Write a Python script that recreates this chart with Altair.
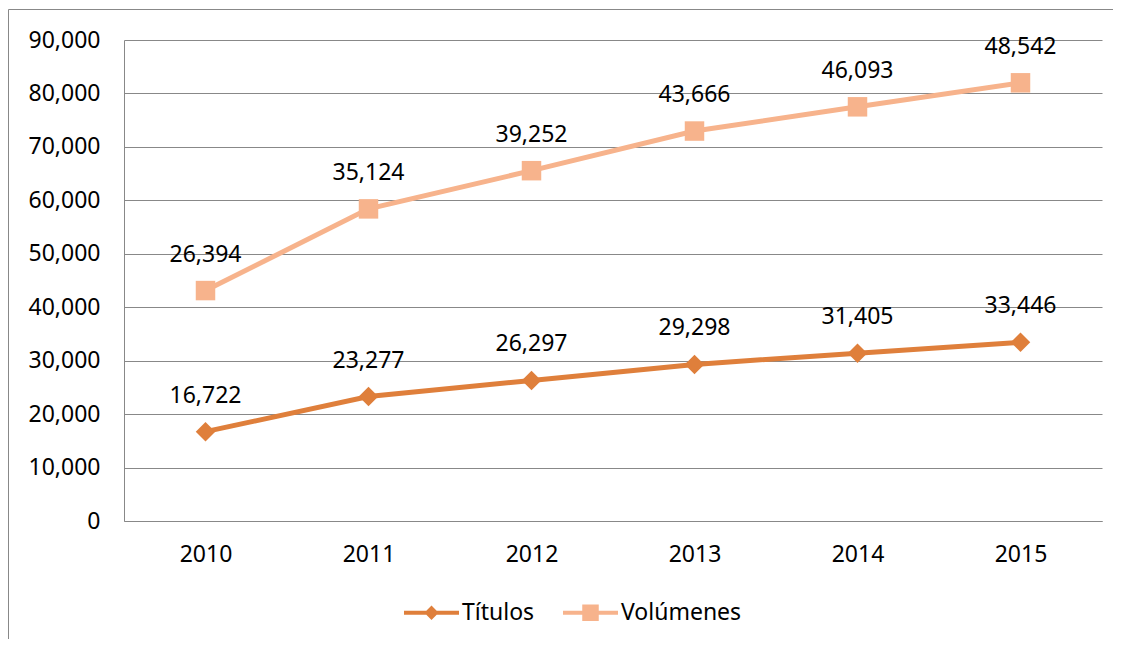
import altair as alt
import pandas as pd

years = ["2010", "2011", "2012", "2013", "2014", "2015"]
titulos = [16722, 23277, 26297, 29298, 31405, 33446]
volumenes = [26394, 35124, 39252, 43666, 46093, 48542]
series_names = ["Títulos", "Volúmenes"]
colors = ["#DF7F3B", "#F7B38C"]

rows = []
for i, y in enumerate(years):
    rows.append({"year": y, "series": series_names[0], "order": 0, "value": titulos[i]})
    rows.append({"year": y, "series": series_names[1], "order": 1, "value": volumenes[i]})
df = pd.DataFrame(rows)

FONT = "Noto Sans"
GRAY = "#888888"

# legend symbol paths (line + marker)
diamond_path = "M-1,-0.075H1V0.075H-1Z M0,-0.26L0.26,0L0,0.26L-0.26,0Z"
square_path = "M-1,-0.075H1V0.075H-1Z M-0.3,-0.3H0.3V0.3H-0.3Z"

base = alt.Chart(df).transform_stack(
    stack="value", groupby=["year"], as_=["y0", "y1"], sort=[alt.SortField("order")]
)

x_enc = alt.X(
    "year:O",
    scale=alt.Scale(type="point", padding=0.5),
    axis=alt.Axis(
        title=None, labelAngle=0, ticks=False, domainColor=GRAY, labelFontSize=23,
        labelFont=FONT, labelColor="#000000", labelPadding=22, grid=False,
    ),
)
y_enc = alt.Y(
    "y1:Q",
    scale=alt.Scale(domain=[0, 90000], nice=False),
    axis=alt.Axis(
        title=None, values=list(range(0, 90001, 10000)), format=",.0f", ticks=False,
        domainColor=GRAY, gridColor=GRAY, labelFontSize=23, labelFont=FONT,
        labelColor="#000000", labelPadding=24,
    ),
)
color_scale = alt.Scale(domain=series_names, range=colors)

leg = alt.Legend(
    title=None, orient="none", direction="horizontal", legendX=280, legendY=545,
    labelFontSize=23, labelFont=FONT, labelColor="#000000", symbolSize=3025,
    labelOffset=3, columnPadding=28, symbolStrokeWidth=0, symbolOpacity=1,
)
color_enc = alt.Color("series:N", scale=color_scale, legend=leg)

lines = base.mark_line(strokeWidth=5).encode(
    x=x_enc, y=y_enc, color=color_enc, detail="series:N",
)

pts_t = base.transform_filter(alt.datum.series == series_names[0]).mark_point(
    filled=True, opacity=1, size=380, shape="diamond"
).encode(x=x_enc, y=y_enc, color=color_enc)

pts_v = base.transform_filter(alt.datum.series == series_names[1]).mark_point(
    filled=True, opacity=1, size=380, shape="square"
).encode(x=x_enc, y=y_enc, color=color_enc)

legend_layer = alt.Chart(df).transform_filter("datum.value < 0").mark_point(
    filled=True, opacity=1
).encode(
    color=color_enc,
    shape=alt.Shape("series:N", scale=alt.Scale(domain=series_names, range=[diamond_path, square_path]), legend=leg),
)

labels = base.mark_text(fontSize=23, font=FONT, color="#000000", dy=-36, baseline="middle").encode(
    x=x_enc, y=y_enc,
    text=alt.Text("value:Q", format=","),
)

border_top = alt.Chart(pd.DataFrame({"a": [0]})).mark_rule(color=GRAY, strokeWidth=1).encode(
    x=alt.value(-115.5), x2=alt.value(1100), y=alt.value(-30.5)
)
border_left = alt.Chart(pd.DataFrame({"a": [0]})).mark_rule(color=GRAY, strokeWidth=1).encode(
    x=alt.value(-115.5), y=alt.value(-30.5), y2=alt.value(700)
)

chart = alt.layer(border_top, border_left, lines, pts_t, pts_v, labels, legend_layer).properties(
    width=978, height=481,
    autosize=alt.AutoSizeParams(type="none"),
    padding={"left": 116, "top": 32, "right": 11, "bottom": 118},
).configure_view(stroke=None).configure_axis(domainWidth=1)

chart.save("out.html", embed_options={"renderer": "svg", "actions": False})
